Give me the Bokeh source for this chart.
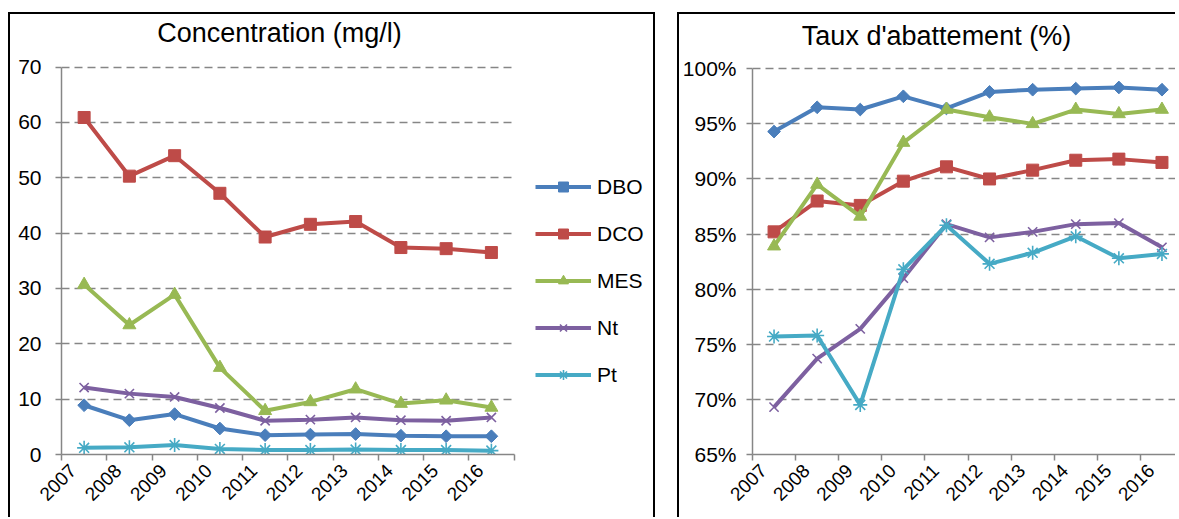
import math
from bokeh.plotting import figure
from bokeh.models import (Range1d, FixedTicker, CustomJSTickFormatter, Legend, LegendItem,
                          PrintfTickFormatter, ColumnDataSource, Label)
from bokeh.layouts import row
from bokeh.embed import file_html
from bokeh.resources import INLINE

years = ["2007", "2008", "2009", "2010", "2011", "2012", "2013", "2014", "2015", "2016"]
series = ["DBO", "DCO", "MES", "Nt", "Pt"]

# Concentration (mg/l)
conc_dbo = [8.9, 6.2, 7.3, 4.7, 3.5, 3.6, 3.7, 3.4, 3.3, 3.3]
conc_dco = [60.9, 50.3, 54.0, 47.2, 39.3, 41.6, 42.1, 37.4, 37.2, 36.5]
conc_mes = [30.7, 23.4, 28.9, 15.7, 7.9, 9.5, 11.8, 9.2, 9.8, 8.5]
conc_nt = [12.1, 11.0, 10.4, 8.4, 6.1, 6.3, 6.7, 6.2, 6.1, 6.7]
conc_pt = [1.2, 1.3, 1.7, 1.0, 0.8, 0.8, 0.9, 0.8, 0.8, 0.7]

# Taux d'abattement (%)
abat_dbo = [94.3, 96.5, 96.3, 97.5, 96.4, 97.9, 98.1, 98.2, 98.3, 98.1]
abat_dco = [85.2, 88.0, 87.6, 89.8, 91.1, 90.0, 90.8, 91.7, 91.8, 91.5]
abat_mes = [83.9, 89.5, 86.6, 93.3, 96.3, 95.6, 95.0, 96.3, 95.9, 96.3]
abat_nt = [69.3, 73.7, 76.4, 81.0, 85.9, 84.7, 85.2, 85.9, 86.0, 83.8]
abat_pt = [75.7, 75.8, 69.5, 81.8, 85.8, 82.3, 83.3, 84.8, 82.8, 83.2]

conc_ticks = [0, 10, 20, 30, 40, 50, 60, 70]
abat_ticks = [65, 70, 75, 80, 85, 90, 95, 100]

colors = {"DBO": "#4A7EBB", "DCO": "#BE4B48", "MES": "#98B954", "Nt": "#7D60A0", "Pt": "#46AAC5"}
markers = {
    "DBO": dict(marker="square", size=9, angle=math.pi / 4, line_width=1),
    "DCO": dict(marker="square", size=12, angle=0, line_width=1),
    "MES": dict(marker="triangle", size=13, angle=0, line_width=1),
    "Nt": dict(marker="x", size=13, angle=0, line_width=1.6),
    "Pt": dict(marker="asterisk", size=14, angle=0, line_width=1.6),
}

FONT = "Liberation Sans"
AXIS_COLOR = "#868686"


def make_chart(title, data, ticks, fmt, width, height, mb_left, mb_right, mb_bottom,
               plot_w, plot_h, title_x, title_y, y_standoff, legend_loc=None):
    n = len(years)
    xs = [i + 0.5 for i in range(n)]
    label_pos = [i + 0.25 for i in range(n)]
    # the frame covers plot area + title/legend area; plot area sized plot_w x plot_h px
    frame_w = width - 4 - mb_left - mb_right if mb_right > 1 else width - 2 - mb_left - mb_right
    frame_h = height - 2 - mb_bottom
    x_end = n * frame_w / plot_w
    y_end = ticks[0] + (ticks[-1] - ticks[0]) * frame_h / plot_h
    p = figure(width=width, height=height, x_range=Range1d(0, x_end),
               y_range=Range1d(ticks[0], y_end), output_backend="svg",
               toolbar_location=None, min_border_left=mb_left, min_border_right=mb_right,
               min_border_top=0, min_border_bottom=mb_bottom)
    p.outline_line_color = None
    p.background_fill_color = "white"
    p.border_fill_color = "white"

    # x axis
    xa = p.xaxis[0]
    xa.bounds = (0, n)
    xa.ticker = FixedTicker(ticks=label_pos, minor_ticks=list(range(n + 1)))
    xa.formatter = CustomJSTickFormatter(args=dict(labels=years),
                                         code="return labels[Math.floor(tick)];")
    xa.major_tick_line_color = None
    xa.major_tick_out = 0
    xa.major_tick_in = 0
    xa.minor_tick_line_color = AXIS_COLOR
    xa.minor_tick_line_width = 1.5
    xa.minor_tick_out = 6
    xa.minor_tick_in = 0
    xa.axis_line_color = AXIS_COLOR
    xa.axis_line_width = 1.5
    xa.major_label_orientation = math.pi / 4
    xa.major_label_standoff = 7
    xa.major_label_text_font = FONT
    xa.major_label_text_font_size = "19px"
    xa.major_label_text_color = "#000000"

    ya = p.yaxis[0]
    ya.bounds = (ticks[0], ticks[-1])
    ya.ticker = FixedTicker(ticks=ticks, minor_ticks=[])
    ya.formatter = fmt
    ya.major_tick_line_color = AXIS_COLOR
    ya.major_tick_line_width = 1.5
    ya.major_tick_out = 6
    ya.major_tick_in = 0
    ya.minor_tick_line_color = None
    ya.axis_line_color = AXIS_COLOR
    ya.axis_line_width = 1.5
    ya.major_label_standoff = y_standoff
    ya.major_label_text_font = FONT
    ya.major_label_text_font_size = "21px"
    ya.major_label_text_color = "#000000"

    p.xgrid.visible = False
    g = p.ygrid[0]
    if "cross_bounds" in g.properties():
        g.ticker = FixedTicker(ticks=ticks, minor_ticks=[])
        g.cross_bounds = (0, n)
        g.grid_line_color = AXIS_COLOR
        g.grid_line_width = 1.5
        g.grid_line_dash = "8 5"
    else:
        g.visible = False
        p.segment(x0=[0] * len(ticks), x1=[n] * len(ticks), y0=ticks, y1=ticks,
                  line_color=AXIS_COLOR, line_width=1.5, line_dash="8 5")

    items = []
    for name in series:
        src = ColumnDataSource(dict(x=xs, y=data[name]))
        c = colors[name]
        lr = p.line("x", "y", source=src, line_color=c, line_width=4)
        m = markers[name]
        sr = p.scatter("x", "y", source=src, marker=m["marker"], size=m["size"], angle=m["angle"],
                       fill_color=c, line_color=c, line_width=m["line_width"])
        items.append(LegendItem(label=name, renderers=[lr, sr]))

    t = Label(x=title_x, y=title_y, x_units="screen", y_units="screen", text=title,
              text_font=FONT, text_font_size="27px", text_color="#000000",
              text_align="center", text_baseline="alphabetic")
    p.add_layout(t)

    if legend_loc is not None:
        lg = Legend(items=items, location=legend_loc, orientation="vertical")
        lg.padding = 0
        lg.margin = 0
        lg.border_line_color = None
        lg.background_fill_alpha = 0
        lg.glyph_width = 56
        lg.glyph_height = 25
        lg.label_height = 25
        lg.spacing = 22
        lg.label_standoff = 6
        lg.label_text_font = FONT
        lg.label_text_font_size = "21px"
        lg.label_text_color = "#000000"
        p.add_layout(lg)
    return p


conc = {"DBO": conc_dbo, "DCO": conc_dco, "MES": conc_mes, "Nt": conc_nt, "Pt": conc_pt}
abat = {"DBO": abat_dbo, "DCO": abat_dco, "MES": abat_mes, "Nt": abat_nt, "Pt": abat_pt}

# left: canvas x 10..653, y 14..517 ; plot area x 61..512, y 67..457
p1 = make_chart("Concentration (mg/l)", conc, conc_ticks, PrintfTickFormatter(format="%d"),
                width=647, height=505, mb_left=51, mb_right=0, mb_bottom=60,
                plot_w=451, plot_h=390, title_x=218, title_y=422, y_standoff=14,
                legend_loc=(474, 67))
# right: canvas x 679..1175, y 14..517 ; plot area x 751..1181, y 70.7..455
p2 = make_chart("Taux d'abattement (%)", abat, abat_ticks, PrintfTickFormatter(format="%d%%"),
                width=498, height=505, mb_left=72, mb_right=1, mb_bottom=65,
                plot_w=430, plot_h=384, title_x=184, title_y=419, y_standoff=10)

p1.styles = {"border-top": "2px solid black", "border-left": "2px solid black",
             "border-right": "2px solid black", "margin-top": "12px", "margin-left": "8px"}
p2.styles = {"border-top": "2px solid black", "border-left": "2px solid black",
             "margin-top": "12px"}

layout = row(p1, p2, spacing=22)
open("out.html", "w").write(file_html(layout, INLINE))
